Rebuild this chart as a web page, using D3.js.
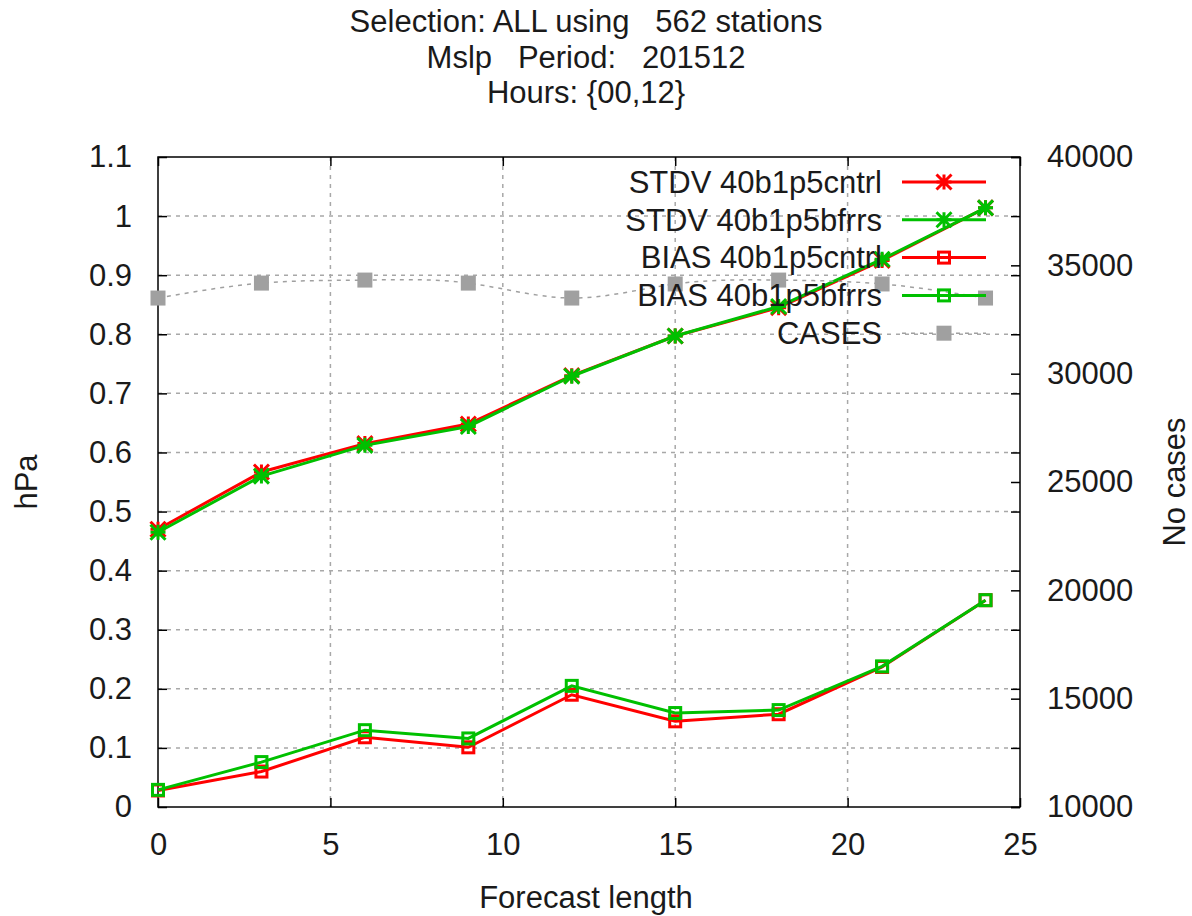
<!DOCTYPE html>
<html>
<head>
<meta charset="utf-8">
<script src="https://cdn.jsdelivr.net/npm/d3@7"></script>
<style>
  body { margin: 0; background: #fff; }
  svg { display: block; font-family: "Liberation Sans", Arial, sans-serif; }
  .tick line { stroke: #000; stroke-width: 1.5; }
  .tick text { fill: #1a1a1a; font-size: 31px; }
</style>
</head>
<body>
<div id="chart"></div>
<script>
// forecast lengths (hours)
const leadTimes = [0, 3, 6, 9, 12, 15, 18, 21, 24];

// values
const stdvCntrl = [0.470, 0.567, 0.615, 0.648, 0.730, 0.797, 0.845, 0.925, 1.014];
const stdvBfrrs = [0.465, 0.560, 0.612, 0.644, 0.729, 0.797, 0.847, 0.927, 1.014];
const biasCntrl = [0.028, 0.060, 0.118, 0.101, 0.190, 0.145, 0.157, 0.237, 0.350];
const biasBfrrs = [0.029, 0.076, 0.130, 0.116, 0.205, 0.159, 0.164, 0.238, 0.350];
const cases = [33490, 34180, 34320, 34180, 33490, 34140, 34320, 34140, 33490];

const xTicks = [0, 5, 10, 15, 20, 25];
const yTicks = [0, 0.1, 0.2, 0.3, 0.4, 0.5, 0.6, 0.7, 0.8, 0.9, 1, 1.1];
const y2Ticks = [10000, 15000, 20000, 25000, 30000, 35000, 40000];

const titleLines = ['Selection: ALL using   562 stations', 'Mslp   Period:   201512', 'Hours: {00,12}'];

const series = [
  { name: 'STDV 40b1p5cntrl', values: stdvCntrl, color: '#ff0000', marker: 'star' },
  { name: 'STDV 40b1p5bfrrs', values: stdvBfrrs, color: '#00c000', marker: 'star' },
  { name: 'BIAS 40b1p5cntrl', values: biasCntrl, color: '#ff0000', marker: 'square' },
  { name: 'BIAS 40b1p5bfrrs', values: biasBfrrs, color: '#00c000', marker: 'square' },
];

const width = 1192;
const height = 916;
const fontSize = 31;
const margin = { top: 157, right: 172, bottom: 109, left: 158 };
const usableArea = {
  top: margin.top,
  right: width - margin.right,
  bottom: height - margin.bottom,
  left: margin.left,
};

const svg = d3.select('#chart')
  .append('svg')
  .attr('width', width)
  .attr('height', height);

const xScale = d3.scaleLinear().domain([0, 25]).range([usableArea.left, usableArea.right]);
const yScale = d3.scaleLinear().domain([0, 1.1]).range([usableArea.bottom, usableArea.top]);
const y2Scale = d3.scaleLinear().domain([10000, 40000]).range([usableArea.bottom, usableArea.top]);

// gridlines
const grid = svg.append('g')
  .attr('stroke', '#a8a8a8')
  .attr('stroke-width', 1.5)
  .attr('stroke-dasharray', '4,5');
grid.selectAll('.gx')
  .data(xTicks.slice(1, -1))
  .join('line')
  .attr('x1', d => xScale(d)).attr('x2', d => xScale(d))
  .attr('y1', usableArea.top).attr('y2', usableArea.bottom);
grid.selectAll('.gy')
  .data(yTicks.slice(1, -1))
  .join('line')
  .attr('x1', usableArea.left).attr('x2', usableArea.right)
  .attr('y1', d => yScale(d)).attr('y2', d => yScale(d));

// axes, ticks pointing inward
svg.append('g')
  .attr('transform', `translate(0, ${usableArea.bottom})`)
  .call(d3.axisBottom(xScale).tickValues(xTicks).tickFormat(d3.format('d')).tickSizeInner(-9).tickSizeOuter(0).tickPadding(26))
  .call(g => g.select('.domain').remove());
svg.append('g')
  .attr('transform', `translate(0, ${usableArea.top})`)
  .call(d3.axisTop(xScale).tickValues(xTicks).tickFormat('').tickSizeInner(-9).tickSizeOuter(0))
  .call(g => g.select('.domain').remove());
svg.append('g')
  .attr('transform', `translate(${usableArea.left}, 0)`)
  .call(d3.axisLeft(yScale).tickValues(yTicks).tickFormat(d3.format('~g')).tickSizeInner(-9).tickSizeOuter(0).tickPadding(26))
  .call(g => g.select('.domain').remove());
svg.append('g')
  .attr('transform', `translate(${usableArea.right}, 0)`)
  .call(d3.axisRight(yScale).tickValues(yTicks).tickFormat('').tickSizeInner(-9).tickSizeOuter(0))
  .call(g => g.select('.domain').remove());
svg.append('g')
  .attr('transform', `translate(${usableArea.right}, 0)`)
  .call(d3.axisRight(y2Scale).tickValues(y2Ticks).tickFormat(d3.format('d')).tickSizeInner(-9).tickSizeOuter(0).tickPadding(27))
  .call(g => g.select('.domain').remove());
svg.selectAll('.tick text').attr('font-family', null).attr('font-size', null);

// border
svg.append('rect')
  .attr('x', usableArea.left)
  .attr('y', usableArea.top)
  .attr('width', usableArea.right - usableArea.left)
  .attr('height', usableArea.bottom - usableArea.top)
  .attr('fill', 'none')
  .attr('stroke', '#000')
  .attr('stroke-width', 1.5);

function drawMarker(g, type, cx, cy, color) {
  if (type === 'star') {
    const s = 7.5;
    g.append('path')
      .attr('d', `M${cx - s},${cy}H${cx + s}M${cx},${cy - s}V${cy + s}M${cx - s},${cy - s}L${cx + s},${cy + s}M${cx - s},${cy + s}L${cx + s},${cy - s}`)
      .attr('stroke', color)
      .attr('stroke-width', 3)
      .attr('fill', 'none');
  } else if (type === 'square') {
    g.append('rect')
      .attr('x', cx - 5.5).attr('y', cy - 5.5)
      .attr('width', 11).attr('height', 11)
      .attr('stroke', color)
      .attr('stroke-width', 3)
      .attr('fill', 'none');
  } else {
    g.append('rect')
      .attr('x', cx - 7.5).attr('y', cy - 7.5)
      .attr('width', 15).attr('height', 15)
      .attr('fill', color);
  }
}

const line = d3.line()
  .x((d, i) => xScale(leadTimes[i]))
  .y(d => yScale(d));

const plots = svg.append('g');
series.forEach(s => {
  const g = plots.append('g');
  g.append('path')
    .datum(s.values)
    .attr('d', line)
    .attr('fill', 'none')
    .attr('stroke', s.color)
    .attr('stroke-width', 3);
  s.values.forEach((v, i) => drawMarker(g, s.marker, xScale(leadTimes[i]), yScale(v), s.color));
});

// cases on the right axis
const casesLine = d3.line()
  .x((d, i) => xScale(leadTimes[i]))
  .y(d => y2Scale(d))
  .curve(d3.curveNatural);
const cg = plots.append('g');
cg.append('path')
  .datum(cases)
  .attr('d', casesLine)
  .attr('fill', 'none')
  .attr('stroke', '#a0a0a0')
  .attr('stroke-width', 1.5)
  .attr('stroke-dasharray', '4,5');
cases.forEach((v, i) => drawMarker(cg, 'fill', xScale(leadTimes[i]), y2Scale(v), '#a0a0a0'));

// legend
const legendItems = series.concat([{ name: 'CASES', color: '#a0a0a0', marker: 'fill' }]);
const legend = svg.append('g');
legendItems.forEach((d, i) => {
  const ly = 182 + i * 37.8;
  legend.append('text')
    .attr('x', 882)
    .attr('y', ly)
    .attr('dy', '0.35em')
    .attr('text-anchor', 'end')
    .attr('font-size', fontSize)
    .attr('fill', '#1a1a1a')
    .text(d.name);
  legend.append('line')
    .attr('x1', 902).attr('x2', 986)
    .attr('y1', ly).attr('y2', ly)
    .attr('stroke', d.color)
    .attr('stroke-width', d.marker === 'fill' ? 1.5 : 3)
    .attr('stroke-dasharray', d.marker === 'fill' ? '4,5' : null);
  drawMarker(legend, d.marker, 944, ly, d.color);
});

// titles and axis labels
svg.append('g')
  .selectAll('text')
  .data(titleLines)
  .join('text')
  .attr('x', 586)
  .attr('y', (d, i) => 32 + i * 35.5)
  .attr('text-anchor', 'middle')
  .attr('font-size', fontSize)
  .attr('fill', '#1a1a1a')
  .style('white-space', 'pre')
  .text(d => d);

svg.append('text')
  .attr('x', 586)
  .attr('y', 908)
  .attr('text-anchor', 'middle')
  .attr('font-size', fontSize)
  .attr('fill', '#1a1a1a')
  .text('Forecast length');

svg.append('text')
  .attr('transform', 'translate(37, 482) rotate(-90)')
  .attr('text-anchor', 'middle')
  .attr('font-size', fontSize)
  .attr('fill', '#1a1a1a')
  .text('hPa');

svg.append('text')
  .attr('transform', 'translate(1185, 482) rotate(-90)')
  .attr('text-anchor', 'middle')
  .attr('font-size', fontSize)
  .attr('fill', '#1a1a1a')
  .text('No cases');
</script>
</body>
</html>
